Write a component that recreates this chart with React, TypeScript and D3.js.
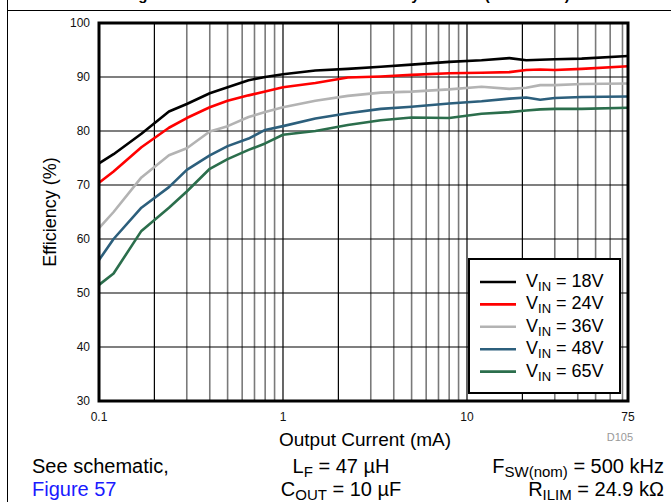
import { useEffect, useRef } from 'react';
import * as d3 from 'd3';

// output current (mA)
const current = [0.1, 0.12, 0.17, 0.24, 0.3, 0.4, 0.5, 0.65, 0.8, 1, 1.5, 2.25, 3.4, 5, 8, 12, 17, 21, 25, 30, 42, 75];

// efficiency (%) per input voltage
const vin18 = [74.0, 75.7, 79.5, 83.6, 85.0, 87.0, 88.1, 89.4, 90.0, 90.5, 91.2, 91.5, 91.9, 92.3, 92.8, 93.1, 93.5, 93.1, 93.2, 93.3, 93.4, 93.9];
const vin24 = [70.4, 72.5, 77.0, 80.6, 82.4, 84.4, 85.6, 86.6, 87.3, 88.1, 88.9, 89.9, 90.1, 90.4, 90.7, 90.8, 90.9, 91.3, 91.4, 91.3, 91.5, 92.0];
const vin36 = [62.0, 65.0, 71.4, 75.5, 76.8, 79.9, 80.9, 82.6, 83.5, 84.4, 85.6, 86.5, 87.1, 87.3, 87.7, 88.2, 87.8, 88.0, 88.5, 88.5, 88.7, 88.8];
const vin48 = [56.1, 60.0, 65.8, 69.6, 72.8, 75.5, 77.2, 78.6, 80.2, 80.9, 82.3, 83.3, 84.1, 84.5, 85.1, 85.5, 86.0, 86.2, 85.8, 86.1, 86.3, 86.4];
const vin65 = [51.5, 53.6, 61.5, 65.8, 68.8, 73.0, 74.8, 76.5, 77.7, 79.3, 80.0, 81.1, 82.0, 82.5, 82.4, 83.2, 83.5, 83.8, 84.0, 84.1, 84.1, 84.3];

const seriesNames = ['18V', '24V', '36V', '48V', '65V'];
const seriesValues = [vin18, vin24, vin36, vin48, vin65];
const seriesColors = ['#000000', '#ff0000', '#b3b3b3', '#2c5f7c', '#2b6e4c'];

const yTicks = [30, 40, 50, 60, 70, 80, 90, 100];
const xTickLabels = [
  { v: 0.1, t: '0.1' },
  { v: 1, t: '1' },
  { v: 10, t: '10' },
  { v: 75, t: '75' },
];

export default function App() {
  const ref = useRef<SVGSVGElement>(null);

  useEffect(() => {
    const W = 671, H = 502;
    const margin = { left: 99, right: 43, top: 23, bottom: 101 };
    const svg = d3.select(ref.current);
    svg.selectAll('*').remove();
    svg.attr('width', W).attr('height', H);
    const font = '"Liberation Sans", Arial, sans-serif';

    const x = d3.scaleLog().domain([0.1, 75]).range([margin.left, W - margin.right]);
    const y = d3.scaleLinear().domain([30, 100]).range([H - margin.bottom, margin.top]);

    // frame
    svg.append('line').attr('x1', 7.5).attr('x2', 7.5).attr('y1', 0).attr('y2', H).attr('stroke', '#000').attr('stroke-width', 1);
    svg.append('line').attr('x1', 7.5).attr('x2', W).attr('y1', 10.5).attr('y2', 10.5).attr('stroke', '#000').attr('stroke-width', 1.2);

    // title, mostly above the visible area (only descenders show)
    svg.append('text')
      .attr('x', 125).attr('y', 0)
      .style('font-family', font).style('font-size', '15px').style('font-weight', 'bold')
      .text('Figure 26. VOUT = 12 V Overall Efficiency vs Load (COT Mode)');

    // vertical grid
    const minor: number[] = [];
    for (let dec = 0.1; dec < 100; dec *= 10) {
      for (let m = 1; m < 10; m++) {
        const v = +(dec * m).toPrecision(3);
        if (v > 0.1 && v < 75) minor.push(v);
      }
    }
    const isMajor = (v: number) => {
      const m = v / Math.pow(10, Math.floor(Math.log10(v) + 1e-9));
      return Math.abs(m - 1) < 1e-6 || Math.abs(m - 2) < 1e-6;
    };
    svg.append('g').selectAll('line').data(minor).enter().append('line')
      .attr('x1', d => x(d)).attr('x2', d => x(d))
      .attr('y1', y(100)).attr('y2', y(30))
      .attr('stroke', d => (isMajor(d) ? '#000' : '#7a7a7a'))
      .attr('stroke-width', d => (isMajor(d) ? 1.2 : 1.6));

    // horizontal grid
    svg.append('g').selectAll('line').data(yTicks.slice(1, -1)).enter().append('line')
      .attr('x1', x(0.1)).attr('x2', x(75))
      .attr('y1', d => y(d)).attr('y2', d => y(d))
      .attr('stroke', '#000').attr('stroke-width', 1.2);

    // curves
    const line = d3.line<number>()
      .x((_, i) => x(current[i]))
      .y(d => y(d));
    seriesValues.forEach((vals, i) => {
      svg.append('path')
        .datum(vals)
        .attr('d', line)
        .attr('fill', 'none')
        .attr('stroke', seriesColors[i])
        .attr('stroke-width', 2.6)
        .attr('stroke-linejoin', 'round');
    });

    // plot border
    svg.append('rect')
      .attr('x', x(0.1)).attr('y', y(100))
      .attr('width', x(75) - x(0.1)).attr('height', y(30) - y(100))
      .attr('fill', 'none').attr('stroke', '#000').attr('stroke-width', 3);

    // y tick labels
    svg.append('g').selectAll('text').data(yTicks).enter().append('text')
      .attr('x', 90).attr('y', d => y(d) + 4)
      .attr('text-anchor', 'end')
      .style('font-family', font).style('font-size', '12px')
      .attr('fill', '#111')
      .text(d => d);

    // x tick labels
    svg.append('g').selectAll('text').data(xTickLabels).enter().append('text')
      .attr('x', d => x(d.v)).attr('y', 421)
      .attr('text-anchor', 'middle')
      .style('font-family', font).style('font-size', '12px')
      .attr('fill', '#111')
      .text(d => d.t);

    // axis titles
    svg.append('text')
      .attr('x', 365).attr('y', 446)
      .attr('text-anchor', 'middle')
      .style('font-family', font).style('font-size', '19px')
      .text('Output Current (mA)');
    svg.append('text')
      .attr('transform', `translate(56,${(y(30) + y(100)) / 2}) rotate(-90)`)
      .attr('text-anchor', 'middle')
      .style('font-family', font).style('font-size', '18px')
      .text('Efficiency (%)');
    svg.append('text')
      .attr('x', 633).attr('y', 441)
      .attr('text-anchor', 'end')
      .style('font-family', font).style('font-size', '11px')
      .attr('fill', '#999')
      .text('D105');

    // legend
    const lg = svg.append('g');
    lg.append('rect')
      .attr('x', 469).attr('y', 259).attr('width', 151).attr('height', 134)
      .attr('fill', '#fff').attr('stroke', '#000').attr('stroke-width', 2);
    seriesNames.forEach((name, i) => {
      const cy = 282 + i * 22.4;
      lg.append('line')
        .attr('x1', 480).attr('x2', 516).attr('y1', cy).attr('y2', cy)
        .attr('stroke', seriesColors[i]).attr('stroke-width', 2.6);
      const t = lg.append('text')
        .attr('x', 526).attr('y', cy + 5)
        .style('font-family', font).style('font-size', '18px');
      t.append('tspan').text('V');
      t.append('tspan').attr('dy', 4).style('font-size', '13px').text('IN');
      t.append('tspan').attr('dy', -4).text(` = ${name}`);
    });

    // notes below chart
    const note = (xp: number, yp: number, anchor: string, parts: [string, boolean][], color = '#000') => {
      const t = svg.append('text')
        .attr('x', xp).attr('y', yp)
        .attr('text-anchor', anchor)
        .attr('fill', color)
        .style('font-family', font).style('font-size', '20px');
      let sub = false;
      parts.forEach(([s, isSub]) => {
        const ts = t.append('tspan').text(s);
        if (isSub && !sub) { ts.attr('dy', 4).style('font-size', '15px'); sub = true; }
        else if (!isSub && sub) { ts.attr('dy', -4); sub = false; }
      });
    };
    note(32, 473, 'start', [['See schematic,', false]]);
    note(32, 496, 'start', [['Figure 57', false]], '#1a1aff');
    note(341, 473, 'middle', [['L', false], ['F', true], [' = 47 µH', false]]);
    note(341, 496, 'middle', [['C', false], ['OUT', true], [' = 10 µF', false]]);
    note(664, 473, 'end', [['F', false], ['SW(nom)', true], [' = 500 kHz', false]]);
    note(664, 496, 'end', [['R', false], ['ILIM', true], [' = 24.9 kΩ', false]]);
  }, []);

  return <svg ref={ref} style={{ position: 'absolute', left: 0, top: 0 }} />;
}
